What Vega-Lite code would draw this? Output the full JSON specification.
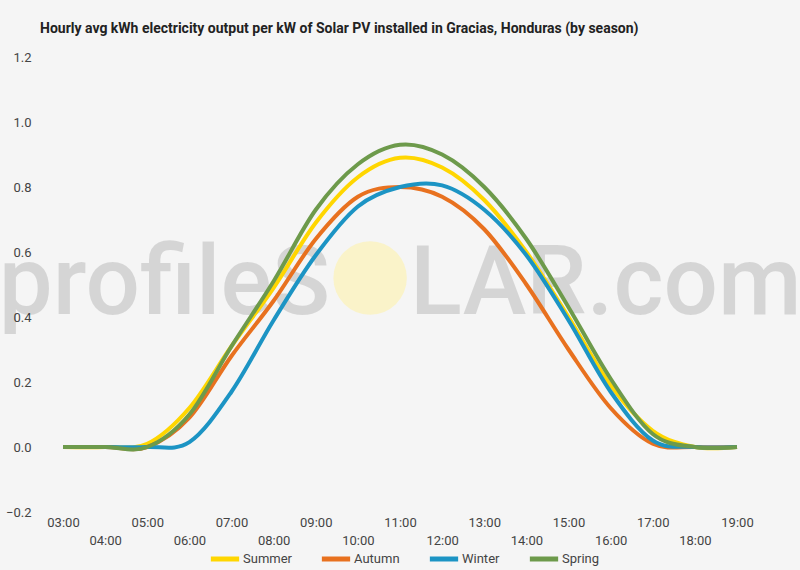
{
  "$schema": "https://vega.github.io/schema/vega-lite/v6.json",
  "width": 720,
  "height": 455,
  "autosize": {"type": "none"},
  "padding": {"left": 40, "top": 57, "right": 40, "bottom": 58},
  "background": "#f5f5f5",
  "title": {
    "text": "Hourly avg kWh electricity output per kW of Solar PV installed in Gracias, Honduras (by season)",
    "anchor": "start",
    "frame": "group",
    "font": "Roboto",
    "fontSize": 14,
    "fontWeight": "bold",
    "color": "#222222",
    "baseline": "alphabetic",
    "offset": 4
  },
  "config": {
    "view": {"stroke": null},
    "font": "Roboto"
  },
  "datasets": {
    "watermarkLeft": [{"label": "profileS"}],
    "watermarkRight": [{"label": "LAR.com"}],
    "sun": [{"label": "O"}],
    "output": [
      {"hour": 3, "season": "Summer", "value": 0},
      {"hour": 4, "season": "Summer", "value": 0},
      {"hour": 5, "season": "Summer", "value": 0.01},
      {"hour": 6, "season": "Summer", "value": 0.12},
      {"hour": 7, "season": "Summer", "value": 0.31},
      {"hour": 8, "season": "Summer", "value": 0.49},
      {"hour": 9, "season": "Summer", "value": 0.69},
      {"hour": 10, "season": "Summer", "value": 0.83},
      {"hour": 11, "season": "Summer", "value": 0.89},
      {"hour": 12, "season": "Summer", "value": 0.86},
      {"hour": 13, "season": "Summer", "value": 0.76},
      {"hour": 14, "season": "Summer", "value": 0.6},
      {"hour": 15, "season": "Summer", "value": 0.4},
      {"hour": 16, "season": "Summer", "value": 0.19},
      {"hour": 17, "season": "Summer", "value": 0.05},
      {"hour": 18, "season": "Summer", "value": 0},
      {"hour": 19, "season": "Summer", "value": 0},
      {"hour": 3, "season": "Autumn", "value": 0},
      {"hour": 4, "season": "Autumn", "value": 0},
      {"hour": 5, "season": "Autumn", "value": 0},
      {"hour": 6, "season": "Autumn", "value": 0.09},
      {"hour": 7, "season": "Autumn", "value": 0.28},
      {"hour": 8, "season": "Autumn", "value": 0.45},
      {"hour": 9, "season": "Autumn", "value": 0.64},
      {"hour": 10, "season": "Autumn", "value": 0.77},
      {"hour": 11, "season": "Autumn", "value": 0.8},
      {"hour": 12, "season": "Autumn", "value": 0.77},
      {"hour": 13, "season": "Autumn", "value": 0.67},
      {"hour": 14, "season": "Autumn", "value": 0.5},
      {"hour": 15, "season": "Autumn", "value": 0.3},
      {"hour": 16, "season": "Autumn", "value": 0.12},
      {"hour": 17, "season": "Autumn", "value": 0.01},
      {"hour": 18, "season": "Autumn", "value": 0},
      {"hour": 19, "season": "Autumn", "value": 0},
      {"hour": 3, "season": "Winter", "value": 0},
      {"hour": 4, "season": "Winter", "value": 0},
      {"hour": 5, "season": "Winter", "value": 0},
      {"hour": 6, "season": "Winter", "value": 0.015},
      {"hour": 7, "season": "Winter", "value": 0.17},
      {"hour": 8, "season": "Winter", "value": 0.39},
      {"hour": 9, "season": "Winter", "value": 0.59},
      {"hour": 10, "season": "Winter", "value": 0.74},
      {"hour": 11, "season": "Winter", "value": 0.8},
      {"hour": 12, "season": "Winter", "value": 0.805},
      {"hour": 13, "season": "Winter", "value": 0.73},
      {"hour": 14, "season": "Winter", "value": 0.59},
      {"hour": 15, "season": "Winter", "value": 0.39},
      {"hour": 16, "season": "Winter", "value": 0.17},
      {"hour": 17, "season": "Winter", "value": 0.02},
      {"hour": 18, "season": "Winter", "value": 0},
      {"hour": 19, "season": "Winter", "value": 0},
      {"hour": 3, "season": "Spring", "value": 0},
      {"hour": 4, "season": "Spring", "value": 0},
      {"hour": 5, "season": "Spring", "value": 0},
      {"hour": 6, "season": "Spring", "value": 0.1},
      {"hour": 7, "season": "Spring", "value": 0.31},
      {"hour": 8, "season": "Spring", "value": 0.51},
      {"hour": 9, "season": "Spring", "value": 0.73},
      {"hour": 10, "season": "Spring", "value": 0.87},
      {"hour": 11, "season": "Spring", "value": 0.93},
      {"hour": 12, "season": "Spring", "value": 0.9},
      {"hour": 13, "season": "Spring", "value": 0.8},
      {"hour": 14, "season": "Spring", "value": 0.64},
      {"hour": 15, "season": "Spring", "value": 0.43},
      {"hour": 16, "season": "Spring", "value": 0.21},
      {"hour": 17, "season": "Spring", "value": 0.04},
      {"hour": 18, "season": "Spring", "value": 0},
      {"hour": 19, "season": "Spring", "value": 0}
    ]
  },
  "layer": [
    {
      "data": {"name": "watermarkLeft"},
      "mark": {"type": "text", "font": "Roboto", "fontSize": 96, "fontWeight": 500, "fill": "#000000", "fillOpacity": 0.13, "align": "right", "baseline": "alphabetic"},
      "encoding": {
        "x": {"datum": 9.34, "type": "quantitative"},
        "y": {"datum": 0.41, "type": "quantitative"},
        "text": {"field": "label", "type": "nominal"}
      }
    },
    {
      "data": {"name": "watermarkRight"},
      "mark": {"type": "text", "font": "Roboto", "fontSize": 96, "fontWeight": 500, "fill": "#000000", "fillOpacity": 0.13, "align": "left", "baseline": "alphabetic"},
      "encoding": {
        "x": {"datum": 11.237, "type": "quantitative"},
        "y": {"datum": 0.41, "type": "quantitative"},
        "text": {"field": "label", "type": "nominal"}
      }
    },
    {
      "data": {"name": "sun"},
      "mark": {"type": "point", "shape": "circle", "filled": true, "size": 5400, "fill": "#fbf3c4", "opacity": 0.9},
      "encoding": {
        "x": {"datum": 10.29, "type": "quantitative"},
        "y": {"datum": 0.52, "type": "quantitative"}
      }
    },
    {
      "data": {"name": "output"},
      "mark": {"type": "line", "strokeWidth": 4, "interpolate": "cardinal"},
      "encoding": {
        "x": {
          "field": "hour",
          "type": "quantitative",
          "scale": {"domain": [2.454, 19.546], "nice": false, "zero": false},
          "axis": {
            "title": null,
            "values": [3, 4, 5, 6, 7, 8, 9, 10, 11, 12, 13, 14, 15, 16, 17, 18, 19],
            "labelExpr": "datum.value % 2 == 0 ? ['', (datum.value < 10 ? '0' : '') + datum.value + ':00'] : (datum.value < 10 ? '0' : '') + datum.value + ':00'",
            "labelLineHeight": 18,
            "labelBaseline": "top",
            "grid": false,
            "ticks": false,
            "domain": false,
            "labelOverlap": false,
            "labelFlush": false,
            "labelBound": false,
            "labelFont": "Roboto",
            "labelFontSize": 13,
            "labelColor": "#444444",
            "labelPadding": 4
          }
        },
        "y": {
          "field": "value",
          "type": "quantitative",
          "scale": {"domain": [-0.2, 1.2], "nice": false},
          "axis": {
            "title": null,
            "values": [-0.2, 0, 0.2, 0.4, 0.6, 0.8, 1.0, 1.2],
            "format": ".1f",
            "domain": false,
            "ticks": false,
            "gridColor": {"condition": {"test": "datum.value === 0", "value": "#333333"}, "value": "#cccccc"},
            "gridWidth": 1,
            "labelFont": "Roboto",
            "labelFontSize": 13,
            "labelColor": "#444444",
            "labelPadding": 9
          }
        },
        "color": {
          "field": "season",
          "type": "nominal",
          "sort": ["Summer", "Autumn", "Winter", "Spring"],
          "scale": {"domain": ["Summer", "Autumn", "Winter", "Spring"], "range": ["#ffd600", "#e8711f", "#1c94c4", "#6d9a4b"]},
          "legend": {
            "title": null,
            "orient": "none",
            "legendX": 168,
            "legendY": 485,
            "direction": "horizontal",
            "symbolType": "stroke",
            "symbolStrokeWidth": 5,
            "symbolSize": 800,
            "labelFont": "Roboto",
            "labelFontSize": 13,
            "labelColor": "#444444",
            "labelOffset": 1,
            "columnPadding": 19
          }
        }
      }
    }
  ]
}
